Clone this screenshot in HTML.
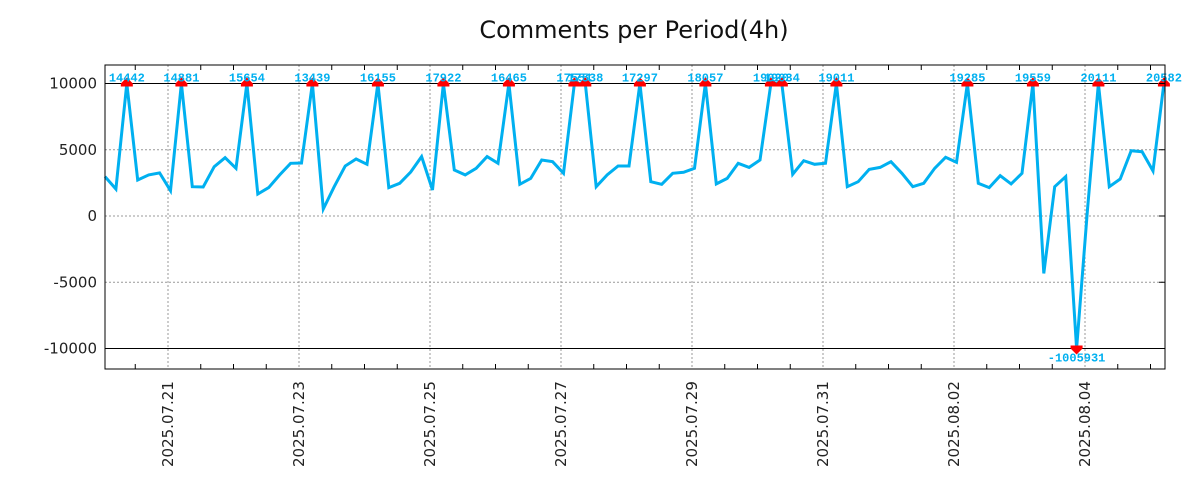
<!DOCTYPE html>
<html><head><meta charset="utf-8"><style>
html,body{margin:0;padding:0;background:#fff;}
svg{display:block;}
</style></head><body>
<svg id="chart" width="1200" height="500" xmlns="http://www.w3.org/2000/svg">
<text x="634" y="38" text-anchor="middle" font-family="DejaVu Sans, Liberation Sans, sans-serif" font-size="24" fill="#111">Comments per Period(4h)</text>
<g id="grid"></g><g id="series"></g><g id="marks"></g><g id="axes"></g>
</svg>
<script>
const values = [2970,2040,14442,2720,3100,3250,1910,14881,2210,2190,
3720,4400,3600,15654,1660,2140,3100,3980,4000,13439,
530,2210,3770,4300,3900,16155,2140,2470,3320,4480,
1960,17922,3470,3100,3600,4480,3980,16465,2390,2840,
4230,4100,3220,17551,17538,2210,3100,3770,3770,17297,
2590,2390,3220,3300,3600,18057,2420,2840,3980,3670,
4230,19020,19034,3150,4170,3900,3980,19011,2210,2590,
3520,3670,4100,3220,2210,2470,3600,4430,4050,19285,
2470,2140,3040,2420,3220,19559,-4330,2210,2970,-1005931,
500,20111,2210,2790,4930,4850,3400,20582];
const startDay = -0.962; // days relative to 2025.07.21 00:00
const stepDays = 1/6;
const yTicks = [10000,5000,0,-5000,-10000];
const xTickLabels = ["2025.07.21","2025.07.23","2025.07.25","2025.07.27","2025.07.29","2025.07.31","2025.08.02","2025.08.04"];
const xTickDays = [0,2,4,6,8,10,12,14];

const L=105,R=1165,T=65,B=369;
const X = d => 168 + d*65.5;
const Y = v => 216 - v*132.5/10000;
const clip = v => Math.max(-10000, Math.min(10000, v));
const NS="http://www.w3.org/2000/svg";
function mk(tag, attrs, parent, text){const e=document.createElementNS(NS,tag);for(const k in attrs)e.setAttribute(k,attrs[k]);if(text!==undefined)e.textContent=text;document.getElementById(parent).appendChild(e);return e;}

yTicks.forEach(v=>{
  const solid = Math.abs(v)===10000;
  const g = mk('line',{x1:L,x2:R,y1:Y(v),y2:Y(v),stroke:solid?'#000':'#999','stroke-width':1,'stroke-dasharray':solid?'none':'2,2'},'grid');
  
  
  const t = mk('text',{x:97,y:Y(v)+5,'text-anchor':'end','font-family':'DejaVu Sans, Liberation Sans, sans-serif','font-size':15,fill:'#222'},'axes',String(v));
  
  
  const tk = mk('line',{x1:R-6,x2:R,y1:Y(v),y2:Y(v),stroke:'#000'},'axes');
  
  
});
xTickDays.forEach((d,i)=>{
  const x=X(d);
  const g = mk('line',{x1:x,x2:x,y1:T,y2:B,stroke:'#999','stroke-dasharray':'2,2'},'grid');
  
  
  const t = mk('text',{x:0,y:0,transform:`translate(${x+5},${B+98}) rotate(-90)`,'font-family':'DejaVu Sans, Liberation Sans, sans-serif','font-size':15,fill:'#222'},'axes',xTickLabels[i]);
  
  
});
for(let d=-1.5; d<=15.5; d+=0.5){
  const x=X(d); if(x<L||x>R) continue;
  const len = (Math.round(d)===d && d%2===0)?0:5;
  if(!len) continue;
  const a = mk('line',{x1:x,x2:x,y1:B,y2:B-len,stroke:'#000'},'axes');
  
  
  const b = mk('line',{x1:x,x2:x,y1:T,y2:T+len,stroke:'#000'},'axes');
  
  
}
const frame = mk('rect',{x:L,y:T,width:R-L,height:B-T,fill:'none',stroke:'#000','stroke-width':1},'axes');



const pts = values.map((v,i)=>[X(startDay+i*stepDays), Y(clip(v))]);
const line = mk('polyline',{points:pts.map(p=>p[0].toFixed(1)+','+p[1].toFixed(1)).join(' '),fill:'none',stroke:'#00b0f0','stroke-width':3,'stroke-linejoin':'miter'},'series');



values.forEach((v,i)=>{
  if(Math.abs(v)<=10000) return;
  const x=pts[i][0], y=pts[i][1];
  const up = v>0;
  const tri = mk('polygon',{points: up ? `${x-6},${y+3} ${x+6},${y+3} ${x+6},${y} ${x},${y-6} ${x-6},${y}` : `${x-6},${y-3} ${x+6},${y-3} ${x+6},${y} ${x},${y+6} ${x-6},${y}`,fill:'#f00'},'marks');
  
  
  const t = mk('text',{x:x,y:up?y-2:y+13,'text-anchor':'middle','font-family':'Liberation Mono, DejaVu Sans Mono, monospace','font-weight':'bold','font-size':12,fill:'#00b0f0'},'marks',String(v));
  
  
});
</script>
</body></html>
